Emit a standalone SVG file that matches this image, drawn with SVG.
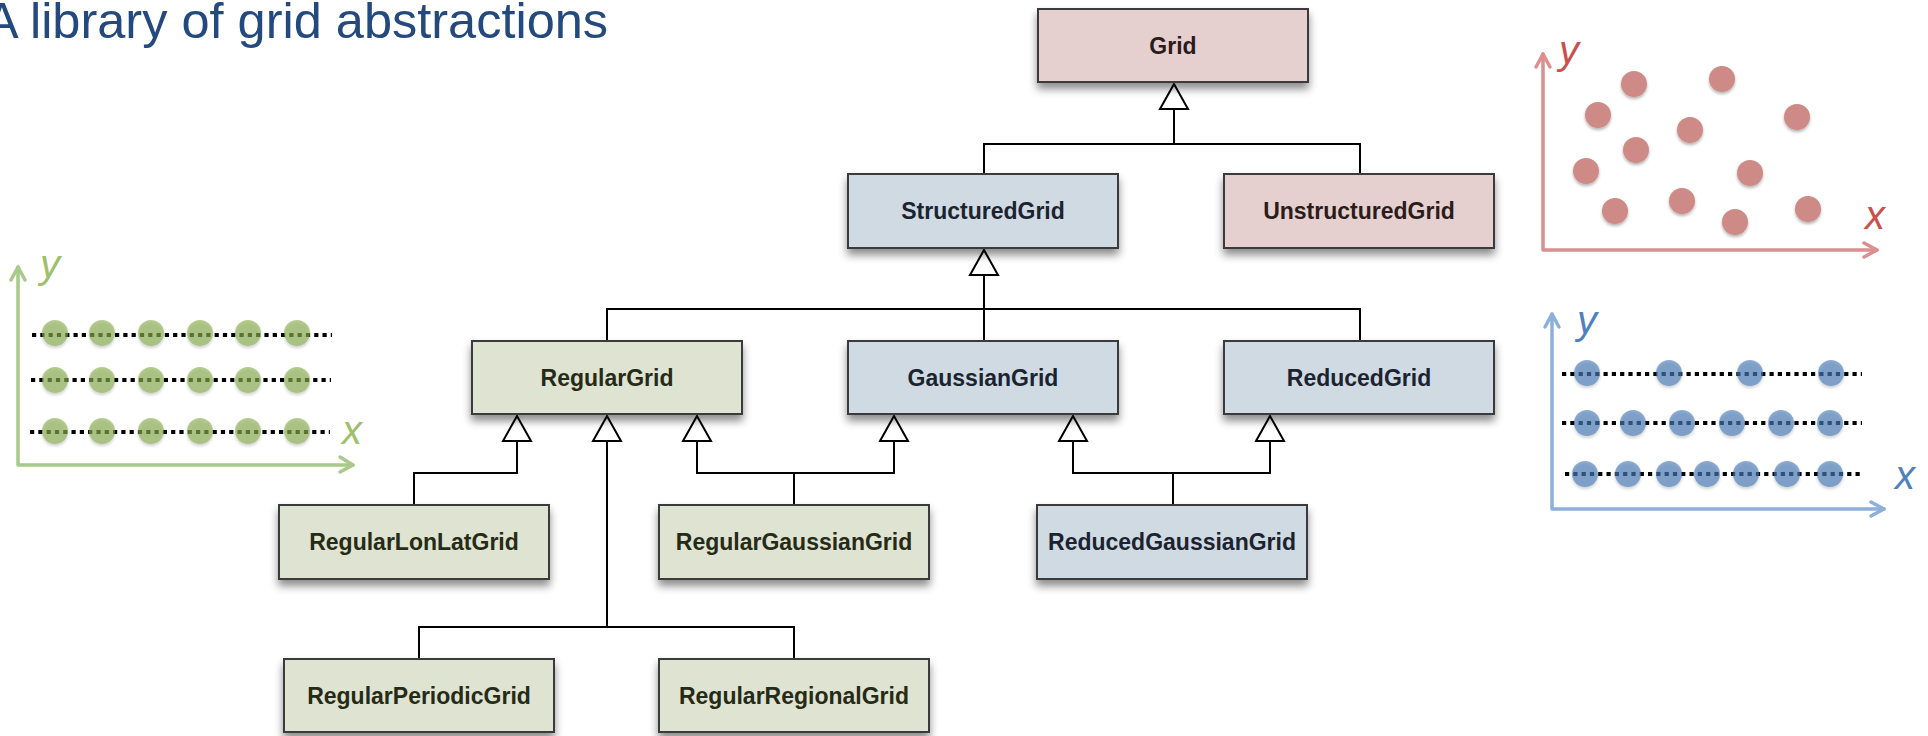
<svg xmlns="http://www.w3.org/2000/svg" width="1928" height="736" viewBox="0 0 1928 736">
<style>
.box{stroke:#3a3a3a;stroke-width:2;filter:url(#sh)}
.pink{fill:#e6d0cf}
.blue{fill:#d0dae3}
.green{fill:#dfe3d1}
.lbl{font-family:"Liberation Sans",Arial,sans-serif;font-weight:bold;font-size:23px;text-anchor:middle}
.tp{fill:#2b1c1c}.tb{fill:#1c2330}.tg{fill:#262b17}
.con{fill:none;stroke:#000;stroke-width:2}
.tri{fill:#fff;stroke:#000;stroke-width:2;stroke-linejoin:miter}
.dots{stroke:#000;stroke-width:4;stroke-dasharray:4.2 4.1;fill:none}
.ax{font-family:"Liberation Sans",Arial,sans-serif;font-style:italic;font-size:40px}
</style>
<defs>
<filter id="sh" x="-10%" y="-20%" width="120%" height="160%">
<feDropShadow dx="0" dy="6" stdDeviation="4" flood-color="#000" flood-opacity="0.45"/>
</filter>
<filter id="csh" x="-30%" y="-30%" width="160%" height="170%">
<feDropShadow dx="0" dy="2" stdDeviation="1.5" flood-color="#000" flood-opacity="0.3"/>
</filter>
<polygon id="tri" points="0,0 -14,25 14,25"/>
</defs>

<text x="-15" y="38" font-family="Liberation Sans,Arial,sans-serif" font-size="50.5" fill="#24497e">A library of grid abstractions</text>

<!-- green regular plot -->
<g id="plot-regular">
<g stroke="#a9c98a" stroke-width="3.5" fill="none" stroke-linecap="round" stroke-linejoin="round">
<path d="M18,267 V465 H353"/>
<path d="M11,280 L18,267 L25,280"/>
<path d="M340,457 L353,465 L340,472"/>
</g>
<text class="ax" x="40" y="278" fill="#9cc16a">y</text>
<text class="ax" x="342" y="444" fill="#9cc16a">x</text>
<g class="dots"><path d="M32,335 H332"/><path d="M31,380 H331"/><path d="M30,432 H330"/></g>
<g fill="#89af4d" fill-opacity="0.62" filter="url(#csh)">
<circle cx="55" cy="333" r="13"/><circle cx="102" cy="333" r="13"/><circle cx="151" cy="333" r="13"/><circle cx="200" cy="333" r="13"/><circle cx="248" cy="333" r="13"/><circle cx="297" cy="333" r="13"/>
<circle cx="55" cy="380" r="13"/><circle cx="102" cy="380" r="13"/><circle cx="151" cy="380" r="13"/><circle cx="200" cy="380" r="13"/><circle cx="248" cy="380" r="13"/><circle cx="297" cy="380" r="13"/>
<circle cx="55" cy="431" r="13"/><circle cx="102" cy="431" r="13"/><circle cx="151" cy="431" r="13"/><circle cx="200" cy="431" r="13"/><circle cx="248" cy="431" r="13"/><circle cx="297" cy="431" r="13"/>
</g>
</g>

<!-- red unstructured plot -->
<g id="plot-unstructured">
<g stroke="#dc8f8f" stroke-width="3.5" fill="none" stroke-linecap="round" stroke-linejoin="round">
<path d="M1543,54 V250 H1877"/>
<path d="M1536,67 L1543,54 L1550,67"/>
<path d="M1864,243 L1877,250 L1864,257"/>
</g>
<text class="ax" x="1559" y="64" fill="#c8504d">y</text>
<text class="ax" x="1865" y="229" fill="#c8504d">x</text>
<g fill="#cd8a86" filter="url(#csh)">
<circle cx="1634" cy="84" r="13"/><circle cx="1722" cy="79" r="13"/><circle cx="1598" cy="115" r="13"/><circle cx="1797" cy="117" r="13"/>
<circle cx="1690" cy="130" r="13"/><circle cx="1636" cy="150" r="13"/><circle cx="1586" cy="171" r="13"/><circle cx="1750" cy="173" r="13"/>
<circle cx="1615" cy="211" r="13"/><circle cx="1682" cy="201" r="13"/><circle cx="1735" cy="222" r="13"/><circle cx="1808" cy="209" r="13"/>
</g>
</g>

<!-- blue reduced plot -->
<g id="plot-reduced">
<g stroke="#8db0da" stroke-width="3.5" fill="none" stroke-linecap="round" stroke-linejoin="round">
<path d="M1552,314 V509 H1884"/>
<path d="M1545,327 L1552,314 L1559,327"/>
<path d="M1871,502 L1884,509 L1871,516"/>
</g>
<text class="ax" x="1577" y="334" fill="#4f81bd">y</text>
<text class="ax" x="1895" y="489" fill="#4f81bd">x</text>
<g class="dots"><path d="M1562,374 H1862"/><path d="M1562,423 H1862"/><path d="M1565,474 H1862"/></g>
<g fill="#457bb7" fill-opacity="0.62" filter="url(#csh)">
<circle cx="1587" cy="373" r="13"/><circle cx="1669" cy="373" r="13"/><circle cx="1750" cy="373" r="13"/><circle cx="1831" cy="373" r="13"/>
<circle cx="1587" cy="423" r="13"/><circle cx="1633" cy="423" r="13"/><circle cx="1682" cy="423" r="13"/><circle cx="1732" cy="423" r="13"/><circle cx="1781" cy="423" r="13"/><circle cx="1830" cy="423" r="13"/>
<circle cx="1585" cy="474" r="13"/><circle cx="1628" cy="474" r="13"/><circle cx="1669" cy="474" r="13"/><circle cx="1707" cy="474" r="13"/><circle cx="1746" cy="474" r="13"/><circle cx="1787" cy="474" r="13"/><circle cx="1830" cy="474" r="13"/>
</g>
</g>

<!-- connectors -->
<g id="connectors">
<path class="con" d="M1174,109 V144 M984,174 V144 H1360 V174"/>
<path class="con" d="M984,275 V309 M607,341 V309 H1360 V341 M984,309 V341"/>
<path class="con" d="M517,441 V473 H414 V505"/>
<path class="con" d="M607,441 V627 M419,659 V627 H794 V659"/>
<path class="con" d="M697,441 V473 H894 V441 M794,473 V505"/>
<path class="con" d="M1073,441 V473 H1270 V441 M1173,473 V505"/>
<use href="#tri" class="tri" x="1174" y="84"/>
<use href="#tri" class="tri" x="984" y="250"/>
<use href="#tri" class="tri" x="517" y="416"/>
<use href="#tri" class="tri" x="607" y="416"/>
<use href="#tri" class="tri" x="697" y="416"/>
<use href="#tri" class="tri" x="894" y="416"/>
<use href="#tri" class="tri" x="1073" y="416"/>
<use href="#tri" class="tri" x="1270" y="416"/>
</g>

<g id="Grid"><rect class="box pink" x="1038" y="9" width="270" height="73"/><text class="lbl tp" x="1173" y="54">Grid</text></g>
<g id="StructuredGrid"><rect class="box blue" x="848" y="174" width="270" height="74"/><text class="lbl tb" x="983" y="219">StructuredGrid</text></g>
<g id="UnstructuredGrid"><rect class="box pink" x="1224" y="174" width="270" height="74"/><text class="lbl tp" x="1359" y="219">UnstructuredGrid</text></g>
<g id="RegularGrid"><rect class="box green" x="472" y="341" width="270" height="73"/><text class="lbl tg" x="607" y="386">RegularGrid</text></g>
<g id="GaussianGrid"><rect class="box blue" x="848" y="341" width="270" height="73"/><text class="lbl tb" x="983" y="386">GaussianGrid</text></g>
<g id="ReducedGrid"><rect class="box blue" x="1224" y="341" width="270" height="73"/><text class="lbl tb" x="1359" y="386">ReducedGrid</text></g>
<g id="RegularLonLatGrid"><rect class="box green" x="279" y="505" width="270" height="74"/><text class="lbl tg" x="414" y="550">RegularLonLatGrid</text></g>
<g id="RegularGaussianGrid"><rect class="box green" x="659" y="505" width="270" height="74"/><text class="lbl tg" x="794" y="550">RegularGaussianGrid</text></g>
<g id="ReducedGaussianGrid"><rect class="box blue" x="1037" y="505" width="270" height="74"/><text class="lbl tb" x="1172" y="550">ReducedGaussianGrid</text></g>
<g id="RegularPeriodicGrid"><rect class="box green" x="284" y="659" width="270" height="73"/><text class="lbl tg" x="419" y="704">RegularPeriodicGrid</text></g>
<g id="RegularRegionalGrid"><rect class="box green" x="659" y="659" width="270" height="73"/><text class="lbl tg" x="794" y="704">RegularRegionalGrid</text></g>
</svg>
